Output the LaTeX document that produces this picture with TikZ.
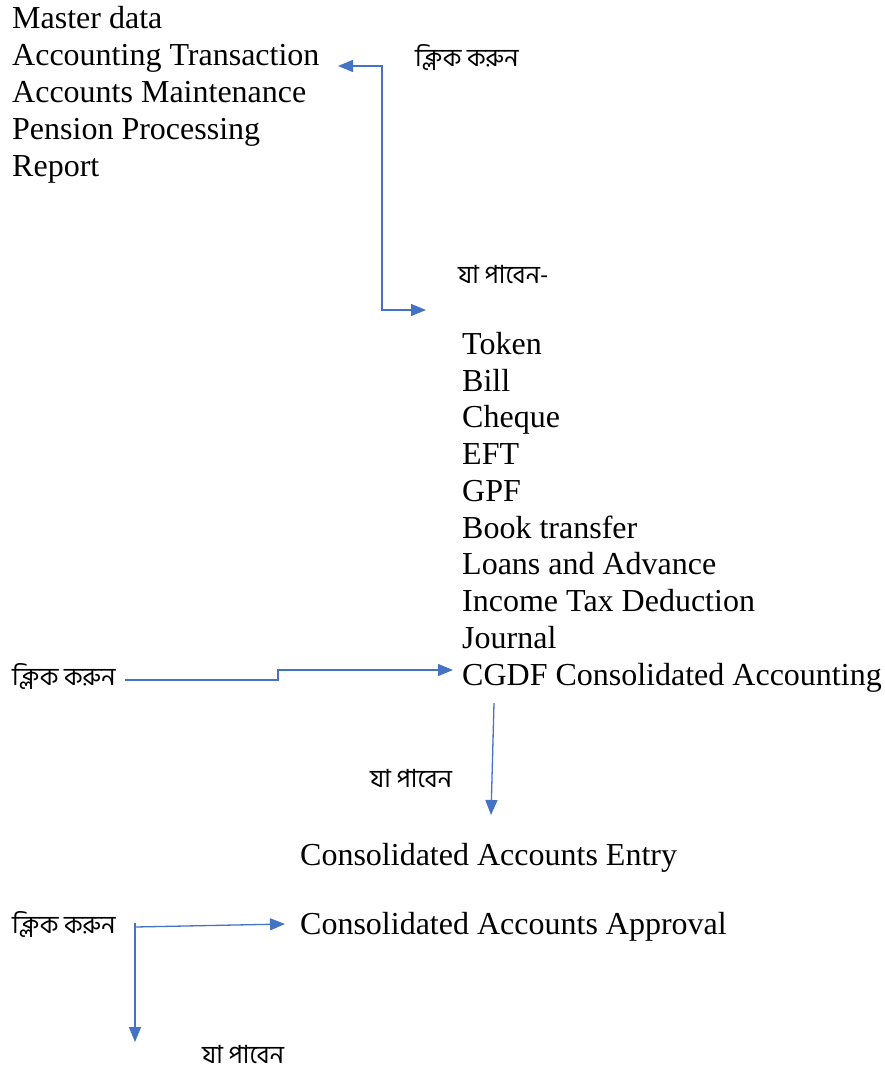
\documentclass[tikz,border=0pt]{standalone}
\usepackage{fontspec}
\setmainfont{Liberation Serif}
\newfontfamily\bnfont[Script=Bengali]{Hind Siliguri}
\usetikzlibrary{arrows.meta}
\definecolor{linkblue}{HTML}{4472C4}
\begin{document}
\begin{tikzpicture}[x=1pt,y=-1pt,
  item/.style={anchor=base west,inner sep=0pt,font=\fontsize{32}{37}\selectfont},
  bn/.style={anchor=base west,inner sep=0pt,font=\bnfont\fontsize{25}{29}\selectfont},
  link/.style={draw=linkblue,line width=1.3pt},
  tip/.style={-{Triangle[length=15pt,width=12pt,fill=linkblue]}},
  tips/.style={{Triangle[length=15pt,width=12pt,fill=linkblue]}-{Triangle[length=15pt,width=12pt,fill=linkblue]}}]
\useasboundingbox (0,0) rectangle (884,1076);
% left menu
\node[item] (m1) at (12,28) {Master data};
\node[item] (m2) at (12,65) {Accounting Transaction};
\node[item] (m3) at (12,102) {Accounts Maintenance};
\node[item] (m4) at (12,139) {Pension Processing};
\node[item] (m5) at (12,176) {Report};
% sub menu
\node[item] (s1) at (462,354) {Token};
\node[item] (s2) at (462,391) {Bill};
\node[item] (s3) at (462,427) {Cheque};
\node[item] (s4) at (462,464) {EFT};
\node[item] (s5) at (462,501) {GPF};
\node[item] (s6) at (462,538) {Book transfer};
\node[item] (s7) at (462,574) {Loans and Advance};
\node[item] (s8) at (462,611) {Income Tax Deduction};
\node[item] (s9) at (462,648) {Journal};
\node[item] (s10) at (462,685) {CGDF Consolidated Accounting};
\node[item] (e1) at (300,865) {Consolidated Accounts Entry};
\node[item] (e2) at (300,934) {Consolidated Accounts Approval};
% bengali labels
\node[bn] (k1) at (415,66) {ক্লিক করুন};
\node[bn] (p1) at (458,283) {যা পাবেন-};
\node[bn] (k2) at (12,685) {ক্লিক করুন};
\node[bn] (p2) at (370,787) {যা পাবেন};
\node[bn] (k3) at (12,933) {ক্লিক করুন};
\node[bn] (p3) at (202,1063) {যা পাবেন};
% connectors
\coordinate (a1) at (338,66);
\coordinate (a2) at (426,310);
\draw[link,tips] (a1) -| (382,310) -- (a2);
\coordinate (b1) at (125,680);
\coordinate (b2) at (453,670);
\draw[link,tip] (b1) -- (278,680) -- (278,670) -- (b2);
\coordinate (c1) at (494,703);
\coordinate (c2) at (491,815);
\draw[link,tip] (c1) -- (c2);
\coordinate (d0) at (135,923);
\coordinate (d1) at (135,1042);
\coordinate (d2) at (285,924);
\draw[link,tip] (d0) -- (d1);
\draw[link,tip] (135,927) -- (d2);
\end{tikzpicture}
\end{document}
